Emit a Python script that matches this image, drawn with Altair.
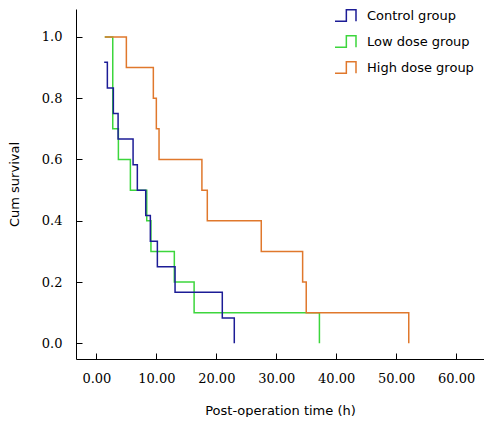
import altair as alt
import pandas as pd

groups = ["Control group", "Low dose group", "High dose group"]
colors = ["#1c1c96", "#3cd63c", "#e0782c"]

control_time = [1.3, 1.83, 2.83, 3.62, 6.12, 6.83, 8.23, 9.0, 10.17, 13.12, 21.0, 23.0]
control_surv = [0.917, 0.833, 0.75, 0.667, 0.583, 0.5, 0.417, 0.333, 0.25, 0.167, 0.083, 0.0]
low_time = [1.4, 2.73, 3.67, 5.67, 8.4, 9.1, 13.0, 16.3, 37.2]
low_surv = [1.0, 0.7, 0.6, 0.5, 0.4, 0.3, 0.2, 0.1, 0.0]
high_time = [1.4, 5.0, 9.5, 10.0, 10.45, 17.6, 18.5, 27.5, 34.4, 35.0, 52.1]
high_surv = [1.0, 0.9, 0.8, 0.7, 0.6, 0.5, 0.4, 0.3, 0.2, 0.1, 0.0]

x_ticks = [0, 10, 20, 30, 40, 50, 60]
y_ticks = [0.0, 0.2, 0.4, 0.6, 0.8, 1.0]

rows = []
for g, ts, ss in [(groups[1], low_time, low_surv),
                  (groups[0], control_time, control_surv),
                  (groups[2], high_time, high_surv)]:
    for i, (t, s) in enumerate(zip(ts, ss)):
        rows.append({"group": g, "time": t, "surv": s, "idx": i})
df = pd.DataFrame(rows)

chart = alt.Chart(df).mark_line(interpolate="step-after", strokeWidth=1.5).encode(
    x=alt.X("time:Q",
            scale=alt.Scale(domain=[-3.4, 64.65], nice=False, zero=False),
            axis=alt.Axis(values=x_ticks, format=".2f", title="Post-operation time (h)",
                          labelFont="DejaVu Serif", labelFontSize=13,
                          tickSize={"expr": "-6"}, labelPadding=19, titlePadding=19)),
    y=alt.Y("surv:Q",
            scale=alt.Scale(domain=[-0.051, 1.091], nice=False, zero=False),
            axis=alt.Axis(values=y_ticks, format=".1f", title="Cum survival",
                          labelFont="DejaVu Serif", labelFontSize=13,
                          tickSize={"expr": "-6"}, labelPadding=20, titlePadding=20)),
    color=alt.Color("group:N", title=None,
                    scale=alt.Scale(domain=groups, range=colors),
                    legend=alt.Legend(orient="none", legendX=258, legendY=-5,
                                      symbolType="M-1,0.55 L0.08,0.55 L0.08,-0.55 L1,-0.55 L1,0.55",
                                      symbolSize=441, symbolStrokeWidth=1.5,
                                      symbolFillColor="transparent",
                                      labelFont="DejaVu Sans", labelFontSize=13,
                                      labelColor="#000", labelOffset=10, rowPadding=5)),
    order="idx:Q",
).properties(
    width=408, height=350,
    padding={"left": 68, "top": 1, "right": 0, "bottom": 58},
    autosize=alt.AutoSizeParams(type="none"),
    background="white",
).configure_view(stroke="transparent").configure_axis(
    grid=False, domainColor="#000", tickColor="#000", domainWidth=1, tickWidth=1,
    labelColor="#000",
    titleFont="DejaVu Sans", titleFontSize=13, titleFontWeight="normal", titleColor="#000",
)

chart.save("out.html", embed_options={"renderer": "svg", "actions": False})
